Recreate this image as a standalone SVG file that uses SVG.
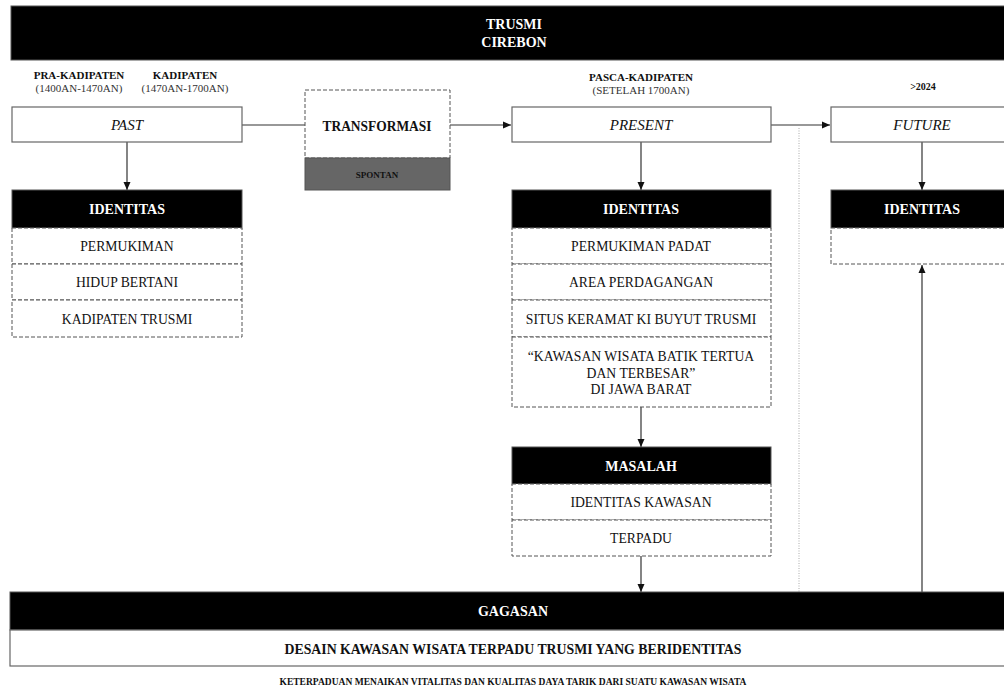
<svg xmlns="http://www.w3.org/2000/svg" width="1004" height="689" viewBox="0 0 1004 689" font-family="'Liberation Serif', 'Times New Roman', serif">
<defs>
<marker id="ah" markerWidth="8" markerHeight="8" refX="8" refY="4" orient="auto" markerUnits="userSpaceOnUse">
<path d="M0,0.5 L8,4 L0,7.5 Z" fill="#111"/>
</marker>
<style>
text{font-family:'Liberation Serif','Times New Roman',serif;text-anchor:middle;dominant-baseline:central;fill:#111}
.hdr{fill:#000;stroke:#555;stroke-width:1}
.hdrt{fill:#fff;font-weight:bold;font-size:14px}
.solid{fill:#fff;stroke:#666;stroke-width:1.2}
.dash{fill:#fff;stroke:#555;stroke-width:1;stroke-dasharray:4 2}
.row{font-size:13.7px}
.per{font-size:15px;font-style:italic}
.lbl{font-size:11px;font-weight:bold}
.sub{font-size:11px;fill:#333}
.conn{stroke:#333;stroke-width:1.2;fill:none}
</style>
</defs>
<rect width="1004" height="689" fill="#fff"/>

<g id="header">
<rect x="11" y="6" width="1000" height="54" class="hdr"/>
<text x="514" y="24" class="hdrt">TRUSMI</text>
<text x="514" y="42" class="hdrt">CIREBON</text>
</g>

<g id="period-labels">
<text x="79" y="75" class="lbl">PRA-KADIPATEN</text>
<text x="79" y="88" class="sub">(1400AN-1470AN)</text>
<text x="185" y="75" class="lbl">KADIPATEN</text>
<text x="185" y="88" class="sub">(1470AN-1700AN)</text>
<text x="641" y="77" class="lbl">PASCA-KADIPATEN</text>
<text x="641" y="90" class="sub">(SETELAH 1700AN)</text>
<text x="923" y="86" font-size="10" font-weight="bold">&gt;2024</text>
</g>

<g id="connectors">
<line x1="242" y1="125" x2="305" y2="125" class="conn"/>
<line x1="450" y1="125" x2="511" y2="125" class="conn" marker-end="url(#ah)"/>
<line x1="771" y1="125" x2="830" y2="125" class="conn" marker-end="url(#ah)"/>
<line x1="127" y1="142" x2="127" y2="190" class="conn" marker-end="url(#ah)"/>
<line x1="641" y1="142" x2="641" y2="190" class="conn" marker-end="url(#ah)"/>
<line x1="922" y1="142" x2="922" y2="190" class="conn" marker-end="url(#ah)"/>
<line x1="641" y1="407" x2="641" y2="447" class="conn" marker-end="url(#ah)"/>
<line x1="641" y1="556" x2="641" y2="592" class="conn" marker-end="url(#ah)"/>
<line x1="922" y1="592" x2="922" y2="265" class="conn" marker-end="url(#ah)"/>
<line x1="799" y1="128" x2="799" y2="592" stroke="#aaa" stroke-width="1" stroke-dasharray="1 1.5"/>
</g>

<g id="past">
<rect x="12" y="107" width="230" height="35" class="solid"/>
<text x="127" y="125" class="per" font-size="16">PAST</text>
</g>

<g id="transformasi">
<rect x="305" y="90" width="145" height="68" class="dash"/>
<text x="377" y="125" font-size="15.5" font-weight="bold" textLength="109" lengthAdjust="spacingAndGlyphs">TRANSFORMASI</text>
</g>

<g id="spontan">
<rect x="305" y="158" width="145" height="32" fill="#666" stroke="#555" stroke-width="1"/>
<text x="377" y="175" font-size="9" font-weight="bold" fill="#111">SPONTAN</text>
</g>

<g id="present">
<rect x="512" y="107" width="259" height="35" class="solid"/>
<text x="641" y="125" class="per">PRESENT</text>
</g>

<g id="future">
<rect x="831" y="107" width="183" height="35" class="solid"/>
<text x="922" y="125" class="per">FUTURE</text>
</g>

<g id="identitas-past">
<rect x="12" y="190" width="230" height="38" class="hdr"/>
<text x="127" y="209" class="hdrt">IDENTITAS</text>
<rect x="12" y="228" width="230" height="36" class="dash"/>
<text x="127" y="246" class="row">PERMUKIMAN</text>
<rect x="12" y="264" width="230" height="36" class="dash"/>
<text x="127" y="282" class="row">HIDUP BERTANI</text>
<rect x="12" y="300" width="230" height="37" class="dash"/>
<text x="127" y="319" class="row">KADIPATEN TRUSMI</text>
</g>

<g id="identitas-present">
<rect x="512" y="190" width="259" height="38" class="hdr"/>
<text x="641" y="209" class="hdrt">IDENTITAS</text>
<rect x="512" y="228" width="259" height="36" class="dash"/>
<text x="641" y="246" class="row">PERMUKIMAN PADAT</text>
<rect x="512" y="264" width="259" height="36" class="dash"/>
<text x="641" y="282" class="row">AREA PERDAGANGAN</text>
<rect x="512" y="300" width="259" height="37" class="dash"/>
<text x="641" y="319" class="row">SITUS KERAMAT KI BUYUT TRUSMI</text>
<rect x="512" y="337" width="259" height="70" class="dash"/>
<text x="641" y="356" class="row">“KAWASAN WISATA BATIK TERTUA</text>
<text x="641" y="373" class="row">DAN TERBESAR”</text>
<text x="641" y="389" class="row">DI JAWA BARAT</text>
</g>

<g id="masalah">
<rect x="512" y="447" width="259" height="37" class="hdr"/>
<text x="641" y="466" class="hdrt">MASALAH</text>
<rect x="512" y="484" width="259" height="36" class="dash"/>
<text x="641" y="502" class="row">IDENTITAS KAWASAN</text>
<rect x="512" y="520" width="259" height="36" class="dash"/>
<text x="641" y="538" class="row">TERPADU</text>
</g>

<g id="identitas-future">
<rect x="831" y="190" width="183" height="38" class="hdr"/>
<text x="922" y="209" class="hdrt">IDENTITAS</text>
<rect x="831" y="228" width="183" height="36" class="dash"/>
</g>

<g id="gagasan">
<rect x="10" y="592" width="1004" height="38" class="hdr"/>
<text x="513" y="611" class="hdrt">GAGASAN</text>
<rect x="10" y="630" width="1004" height="36" class="solid"/>
<text x="513" y="648" font-size="15.5" font-weight="bold" textLength="457" lengthAdjust="spacingAndGlyphs">DESAIN KAWASAN WISATA TERPADU TRUSMI YANG BERIDENTITAS</text>
</g>

<g id="footer">
<text x="513" y="681" font-size="10" font-weight="bold" textLength="467" lengthAdjust="spacingAndGlyphs">KETERPADUAN MENAIKAN VITALITAS DAN KUALITAS DAYA TARIK DARI SUATU KAWASAN WISATA</text>
</g>
</svg>
